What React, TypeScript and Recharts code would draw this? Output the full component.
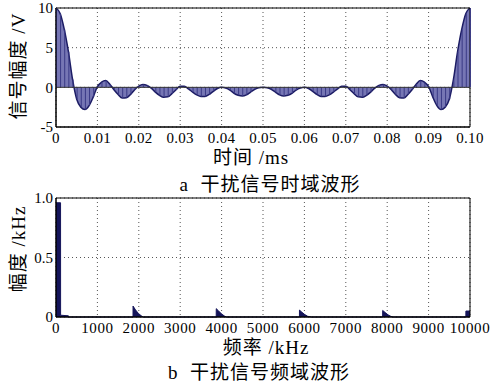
import React from 'react'
import {
  ComposedChart,
  AreaChart,
  Area,
  Bar,
  XAxis,
  YAxis,
  CartesianGrid,
  ReferenceLine,
  ReferenceArea,
} from 'recharts'

// time-domain samples, one every 0.001 ms (0 .. 0.1 ms)
const SAMPLE_STEP_MS = 0.001
const amplitudeV = [
  10, 9.3, 7.3, 4.5, 1.0, -1.5, -2.5, -2.8, -2.3, -1.2,
  0.1, 0.65, 0.85, 0.4, -0.3, -0.9, -1.35, -1.3, -0.9, -0.3,
  0.15, 0.35, 0.25, -0.1, -0.6, -1.0, -1.25, -1.2, -0.8, -0.3,
  0.15, 0.15, -0.2, -0.6, -0.95, -1.15, -1.15, -0.9, -0.5, -0.15,
  0.0, -0.1, -0.35, -0.75, -1.0, -1.1, -0.95, -0.6, -0.25, -0.05,
  0.0, -0.05, -0.25, -0.6, -0.95, -1.1, -1.0, -0.75, -0.35, -0.1,
  0.0, -0.15, -0.5, -0.9, -1.15, -1.15, -0.95, -0.6, -0.2, 0.15,
  0.15, -0.3, -0.8, -1.2, -1.25, -1.0, -0.6, -0.1, 0.25, 0.35,
  0.15, -0.3, -0.9, -1.3, -1.35, -0.9, -0.3, 0.4, 0.85, 0.65,
  0.1, -1.2, -2.3, -2.8, -2.5, -1.5, 1.0, 4.5, 7.3, 9.3,
  10,
]
const timeTicks = [0, 0.01, 0.02, 0.03, 0.04, 0.05, 0.06, 0.07, 0.08, 0.09, 0.1]
const timeTickLabels = ['0', '0.01', '0.02', '0.03', '0.04', '0.05', '0.06', '0.07', '0.08', '0.09', '0.10']
const voltTicks = [-5, 0, 5, 10]

// spectrum outline points
const specFreqKHz = [
  0, 110, 111, 300, 301,
  1860, 1861, 1920, 1990, 2060, 2110,
  3870, 3871, 3930, 4000, 4070, 4120,
  5880, 5881, 5940, 6010, 6080, 6170,
  7890, 7891, 7950, 8020, 8090, 8140,
  9900, 9901, 10000,
]
const specAmp = [
  0.96, 0.96, 0.015, 0.01, 0,
  0, 0.092, 0.06, 0.03, 0.01, 0,
  0, 0.07, 0.05, 0.025, 0.008, 0,
  0, 0.058, 0.04, 0.02, 0.006, 0,
  0, 0.055, 0.038, 0.018, 0.005, 0,
  0, 0.05, 0.05,
]
const freqTicks = [0, 1000, 2000, 3000, 4000, 5000, 6000, 7000, 8000, 9000, 10000]
const ampTicks = [0, 0.5, 1]
const ampTickLabels = ['0', '0.5', '1.0']

const timeData = amplitudeV.map((v, i) => ({ t: +(i * SAMPLE_STEP_MS).toFixed(4), v }))
const specData = specFreqKHz.map((f, i) => ({ f, a: specAmp[i] }))

const SERIF = "'Liberation Serif', 'Noto Sans CJK SC', serif"
const tickStyle = { fontSize: 15, fill: '#000', fontFamily: SERIF }

function Caption({ x, y, text, rotate = false }: { x: number; y: number; text: string; rotate?: boolean }) {
  return (
    <div
      style={{
        position: 'absolute',
        left: x,
        top: y,
        transform: `translate(-50%, -50%)${rotate ? ' rotate(-90deg)' : ''}`,
        whiteSpace: 'pre',
        fontFamily: SERIF,
        fontSize: 19,
        color: '#000',
        letterSpacing: 1,
        lineHeight: 1,
      }}
    >
      {text}
    </div>
  )
}

export default function App() {
  return (
    <div style={{ position: 'absolute', left: 0, top: 0, width: 498, height: 383, background: '#fff', overflow: 'hidden' }}>
      <div style={{ position: 'absolute', left: 0, top: 0 }}>
        <ComposedChart width={498} height={160} data={timeData} margin={{ top: 8, right: 28, left: 16, bottom: 0 }}>
          <CartesianGrid stroke="#555" strokeDasharray="1 3" />
          <XAxis
            dataKey="t"
            type="number"
            domain={[0, 0.1]}
            ticks={timeTicks}
            tickFormatter={(v: number) => timeTickLabels[timeTicks.indexOf(v)] ?? String(v)}
            tickLine={false}
            tickSize={4}
            tickMargin={1}
            axisLine={{ stroke: '#000' }}
            height={33}
            tick={{ ...tickStyle, letterSpacing: 0.3 }}
            interval={0}
          />
          <YAxis
            type="number"
            domain={[-5, 10]}
            ticks={voltTicks}
            tickLine={false}
            tickSize={2}
            tickMargin={1}
            axisLine={{ stroke: '#000' }}
            width={40}
            tick={tickStyle}
            interval={0}
          />
          <Area
            type="monotone"
            dataKey="v"
            fill="#7676b4"
            fillOpacity={1}
            stroke="#1c1c64"
            strokeWidth={1.5}
            isAnimationActive={false}
          />
          <Bar dataKey="v" barSize={1} fill="#3a3a86" isAnimationActive={false} />
          <ReferenceLine y={0} stroke="#333" strokeWidth={1} />
          <ReferenceArea x1={0} x2={0.1} y1={-5} y2={10} fill="none" stroke="#000" strokeWidth={1} />
        </ComposedChart>
      </div>

      <div style={{ position: 'absolute', left: 0, top: 190 }}>
        <AreaChart width={498} height={160} data={specData} margin={{ top: 8, right: 28, left: 16, bottom: 0 }}>
          <CartesianGrid stroke="#555" strokeDasharray="1 3" />
          <XAxis
            dataKey="f"
            type="number"
            domain={[0, 10000]}
            ticks={freqTicks}
            tickLine={false}
            tickSize={4}
            tickMargin={1}
            axisLine={{ stroke: '#000' }}
            height={33}
            tick={{ ...tickStyle, letterSpacing: 0.6 }}
            interval={0}
          />
          <YAxis
            type="number"
            domain={[0, 1]}
            ticks={ampTicks}
            tickFormatter={(v: number) => ampTickLabels[ampTicks.indexOf(v)] ?? String(v)}
            tickLine={false}
            tickSize={2}
            tickMargin={1}
            axisLine={{ stroke: '#000' }}
            width={40}
            tick={tickStyle}
            interval={0}
          />
          <Area
            type="linear"
            dataKey="a"
            fill="#15155a"
            fillOpacity={1}
            stroke="#15155a"
            strokeWidth={1}
            isAnimationActive={false}
          />
          <ReferenceArea x1={0} x2={10000} y1={0} y2={1} fill="none" stroke="#000" strokeWidth={1} />
        </AreaChart>
      </div>

      <Caption x={18} y={66} text="信号幅度 /V" rotate />
      <Caption x={251} y={157} text="时间 /ms" />
      <Caption x={270} y={184} text="a  干扰信号时域波形" />
      <Caption x={18} y={249} text="幅度 /kHz" rotate />
      <Caption x={266} y={347} text="频率 /kHz" />
      <Caption x={259} y={372} text="b  干扰信号频域波形" />
    </div>
  )
}
